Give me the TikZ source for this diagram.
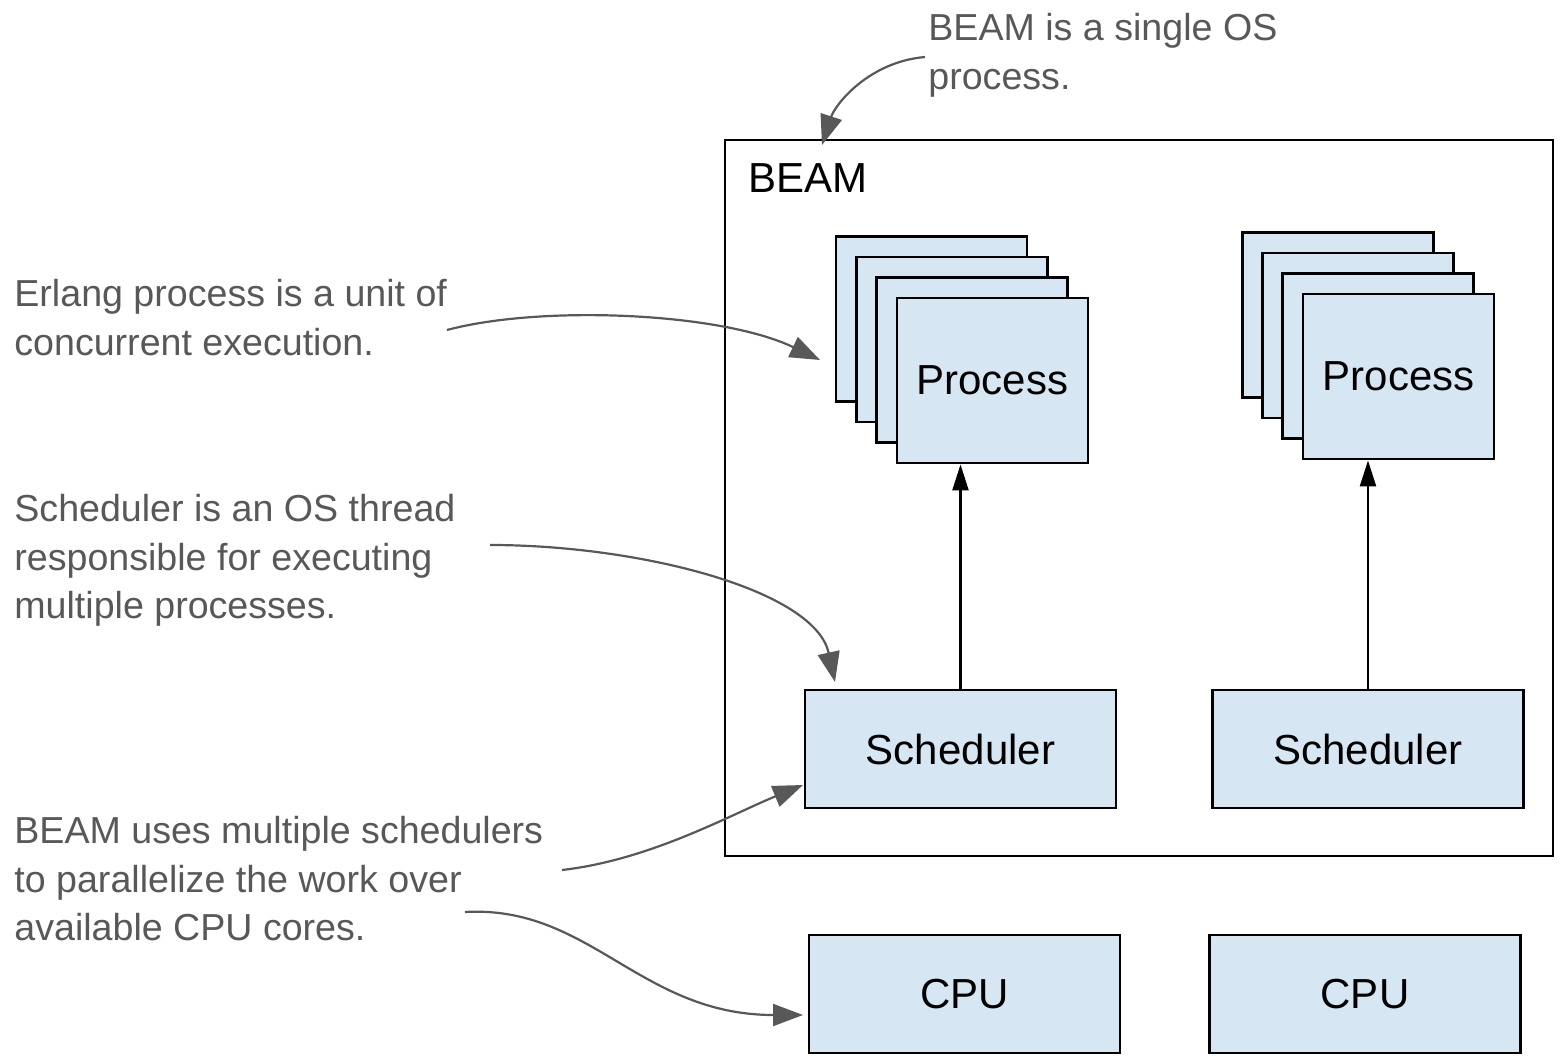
\documentclass[tikz,border=0pt]{standalone}
\usepackage{fontspec}
\setmainfont{Liberation Sans}
\usetikzlibrary{arrows.meta}
\definecolor{boxblue}{RGB}{214,230,242}
\definecolor{notegray}{RGB}{88,88,88}

\begin{document}
\begin{tikzpicture}[x=0.5pt, y=-0.5pt,
  box/.style={draw, fill=boxblue, line width=1.4pt, minimum width=155.5pt, minimum height=59pt, inner sep=0pt, font=\fontsize{21}{25}\selectfont},
  proc/.style={draw, fill=boxblue, line width=1.4pt, minimum width=95.5pt, minimum height=82.5pt, inner sep=0pt, font=\fontsize{21}{25}\selectfont},
  note/.style={anchor=north west, inner sep=0pt, align=left, text=notegray, font=\fontsize{18.8}{24.25}\selectfont},
  pointer/.style={draw=notegray, line width=1.1pt, -{Triangle[length=15pt,width=11pt]}},
  >={Triangle[length=13pt,width=8pt]}]
\useasboundingbox (0,0) rectangle (1560,1064);

% the OS process
\node[draw, line width=1.1pt, minimum width=414pt, minimum height=358pt, inner sep=0pt] (beam) at (1139,498) {};
\node[anchor=base west, inner sep=0pt, font=\fontsize{21}{25}\selectfont] (beamlabel) at (748,193) {BEAM};

% process stacks
\foreach \i in {1,2,3} {
  \node[proc] (p1\i) at ({931.5+20.33*(\i-1)}, {319+20.5*(\i-1)}) {};
  \node[proc] (p2\i) at ({1338+20.17*(\i-1)}, {315+20.5*(\i-1)}) {};
}
\node[proc] (p14) at (992.5,380.5) {Process};
\node[proc] (p24) at (1398.5,376.5) {Process};

% schedulers and cores
\node[box] (s1) at (960.5,749) {Scheduler};
\node[box] (s2) at (1368,749) {Scheduler};
\node[box] (c1) at (964.5,994) {CPU};
\node[box] (c2) at (1365,994) {CPU};

\draw[->, line width=1.1pt] (s1) -- (s1 |- p14.south);
\draw[->, line width=1.1pt] (s2) -- (s2 |- p24.south);

% notes
\node[note] (n0) at (928,13) {BEAM is a single OS\\process.};
\node[note] (n1) at (14,279) {Erlang process is a unit of\\concurrent execution.};
\node[note] (n2) at (14,494) {Scheduler is an OS thread\\responsible for executing\\multiple processes.};
\node[note] (n3) at (14,816) {BEAM uses multiple schedulers\\to parallelize the work over\\available CPU cores.};

\coordinate (a0) at (925,57);  \coordinate (b0) at (822,145);
\coordinate (a1) at (447,330); \coordinate (b1) at (820,360);
\coordinate (a2) at (490,545); \coordinate (b2) at (835,682);
\coordinate (a3) at (562,870); \coordinate (b3) at (803,785);
\coordinate (a4) at (465,912); \coordinate (b4) at (803,1015);

\draw[pointer] (a0) .. controls (868,62) and (835,105) .. (b0);
\draw[pointer] (a1) .. controls (540,305) and (720,312) .. (b1);
\draw[pointer] (a2) .. controls (640,545) and (815,590) .. (b2);
\draw[pointer] (a3) .. controls (650,860) and (730,815) .. (b3);
\draw[pointer] (a4) .. controls (590,905) and (640,1015) .. (b4);
\end{tikzpicture}
\end{document}
